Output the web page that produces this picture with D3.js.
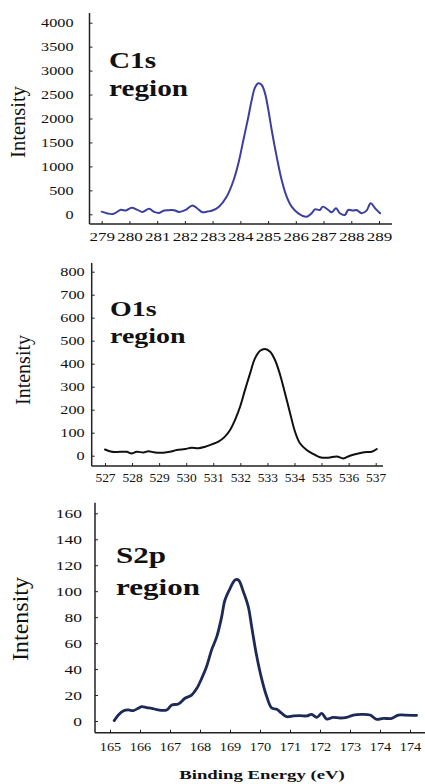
<!DOCTYPE html>
<html><head><meta charset="utf-8">
<script src="https://cdn.jsdelivr.net/npm/d3@7"></script>
<style>
body{margin:0;background:#fff}
svg{display:block}
text{font-family:"Liberation Serif","Times New Roman",serif;fill:#111}
</style>
</head><body>
<svg id="c" width="425" height="784"></svg>
<script>
// ---------- DATA ----------
const c1sEnergy = [279.0,279.4,279.69,279.87,280.08,280.29,280.47,280.71,280.89,281.07,281.25,281.43,281.61,281.79,282.03,282.27,282.45,282.63,282.81,282.99,283.23,283.5,283.75,283.93,284.11,284.29,284.41,284.53,284.65,284.77,284.89,285.01,285.13,285.31,285.49,285.67,285.85,286.09,286.39,286.57,286.69,286.87,286.97,287.17,287.29,287.45,287.59,287.77,287.89,288.07,288.19,288.37,288.55,288.7,288.86,289.04];
const c1sIntensity = [55,5,93,79,136,93,50,114,50,29,79,86,86,50,93,186,121,43,57,79,160,360,700,1064,1551,2038,2386,2650,2734,2700,2525,2177,1760,1204,717,369,160,21,-49,21,104,90,160,90,42,125,21,-14,90,77,90,21,77,230,125,21];

const o1sEnergy = [527.0,527.25,527.55,527.8,527.98,528.17,528.42,528.6,528.85,529.16,529.4,529.65,529.96,530.2,530.45,530.7,530.94,531.19,531.43,531.62,531.8,531.99,532.17,532.36,532.54,532.73,532.91,533.1,533.28,533.47,533.65,533.84,534.02,534.2,534.45,534.7,534.94,535.25,535.56,535.8,536.05,536.36,536.67,536.85,537.04];
const o1sIntensity = [27,17,17,17,10,17,14,19,14,13,17,25,29,35,32,39,49,61,83,112,155,213,285,358,423,456,464,452,416,351,271,184,104,54,25,7,-7,-9,-3,-12,0,10,16,17,29];

const s2pEnergy = [165.14,165.28,165.44,165.61,165.78,165.94,166.06,166.22,166.39,166.61,166.89,167.06,167.28,167.5,167.72,167.89,168.06,168.22,168.39,168.56,168.72,168.83,169.0,169.17,169.28,169.44,169.61,169.72,169.89,170.06,170.22,170.39,170.56,170.72,170.89,171.11,171.33,171.56,171.72,171.89,172.06,172.22,172.44,172.67,172.89,173.11,173.39,173.67,173.89,174.11,174.39,174.61,174.83,175.22];
const s2pIntensity = [0.3,4.6,7.7,8.5,8,9.8,11,10.3,9.8,8.5,8.5,12.3,13.1,17.5,20,25,33,42,55,65,80,93,102,108.6,108.6,100,88,73,50,32,19,10,9,6,3.3,3.9,4.1,3.9,5.1,2.8,5.9,1.5,2.8,2.3,2.8,4.6,5.1,4.6,1.3,2,2,4.6,4.6,4.4];

const c1sXTicks = [279,280,281,282,283,284,285,286,287,288,289];
const c1sXLabels = ["279","280","281","282","283","284","285","286","287","288","289"];
const c1sYTicks = [0,500,1000,1500,2000,2500,3000,3500,4000];

const o1sXTicks = [527,528,529,530,531,532,533,534,535,536,537];
const o1sXLabels = ["527","528","529","530","531","532","533","534","535","536","537"];
const o1sYTicks = [0,100,200,300,400,500,600,700,800];

const s2pXTicks = [165,166,167,168,169,170,171,172,173,174,175];
const s2pXLabels = ["165","166","167","168","169","170","171","172","173","174","174"];
const s2pYTicks = [0,20,40,60,80,100,120,140,160];

const regionNames = ["C1s","O1s","S2p"];
const yTitle = "Intensity";
const xTitle = "Binding Energy (eV)";

// ---------- DRAW ----------
const svg = d3.select("#c");
const SERIF = '"Liberation Serif","Times New Roman",serif';

function panel(cfg){
  const g = svg.append("g");
  const x = d3.scaleLinear().domain(cfg.xDomain).range(cfg.xRange);
  const y = d3.scaleLinear().domain(cfg.yDomain).range(cfg.yRange);

  // axis lines
  g.append("line").attr("x1",cfg.axisX).attr("x2",cfg.axisX)
    .attr("y1",cfg.axisTop).attr("y2",cfg.axisY)
    .attr("stroke","#222").attr("stroke-width",1.5);
  g.append("line").attr("x1",cfg.axisX).attr("x2",cfg.axisRight)
    .attr("y1",cfg.axisY).attr("y2",cfg.axisY)
    .attr("stroke","#222").attr("stroke-width",1.5);

  const xa = g.append("g").attr("transform",`translate(0,${cfg.axisY})`)
    .style("color","#222")
    .call(d3.axisBottom(x).tickValues(cfg.xTicks).tickFormat((d,i)=>cfg.xLabels[i])
      .tickSizeInner(-3).tickSizeOuter(0).tickPadding(0));
  xa.select(".domain").remove();
  xa.selectAll("line").attr("stroke-width",1);
  xa.selectAll("text")
    .attr("y",cfg.xLabelBase).attr("dy",null)
    .style("font-family",SERIF)
    .style("font-size",cfg.xFs+"px").attr("fill","#111")
    .attr("transform",`scale(${cfg.xSx},1)`);

  const ya = g.append("g").attr("transform",`translate(${cfg.axisX},0)`)
    .style("color","#222")
    .call(d3.axisLeft(y).tickValues(cfg.yTicks).tickFormat(d3.format("d"))
      .tickSizeInner(-3).tickSizeOuter(0).tickPadding(0));
  ya.select(".domain").remove();
  ya.selectAll("line").attr("stroke-width",1);
  ya.selectAll("text")
    .attr("x",-cfg.yGap/cfg.ySx).attr("dy","0.34em")
    .style("font-family",SERIF)
    .style("font-size",cfg.yFs+"px").attr("fill","#111")
    .attr("transform",`scale(${cfg.ySx},1)`);

  // y title
  g.append("text")
    .attr("transform",`translate(${cfg.yTitleX},${cfg.yTitleY}) rotate(-90)`)
    .attr("text-anchor","middle")
    .style("font-size",cfg.yTitleFs+"px")
    .text(yTitle);

  // region label
  const lab = g.append("text")
    .attr("transform",`translate(${cfg.labX},0) scale(${cfg.labSx},1)`)
    .style("font-size",cfg.labFs+"px").style("font-weight","bold");
  lab.append("tspan").attr("x",0).attr("y",cfg.labY1).text(cfg.name);
  lab.append("tspan").attr("x",0).attr("y",cfg.labY2).text("region");

  // line
  const line = d3.line().x(d=>x(d[0])).y(d=>y(d[1])).curve(d3.curveCatmullRom.alpha(0.5));
  g.append("path").datum(d3.zip(cfg.xs,cfg.ys))
    .attr("d",line).attr("fill","none")
    .attr("stroke",cfg.color).attr("stroke-width",cfg.lw)
    .attr("stroke-linejoin","round").attr("stroke-linecap","round");
}

panel({
  name:regionNames[0], xs:c1sEnergy, ys:c1sIntensity,
  xDomain:[279,289], xRange:[101.7,379], yDomain:[0,4000], yRange:[214.3,22.7],
  axisX:89.5, axisTop:13, axisY:224, axisRight:392,
  xTicks:c1sXTicks, xLabels:c1sXLabels, yTicks:c1sYTicks,
  xLabelBase:17, xFs:12, xSx:1.42, yGap:16, yFs:12, ySx:1.35,
  yTitleX:25, yTitleY:122, yTitleFs:20.5,
  labX:109, labY1:68, labY2:96, labFs:22.5, labSx:1.3,
  color:"#3b3f9f", lw:2
});

panel({
  name:regionNames[1], xs:o1sEnergy, ys:o1sIntensity,
  xDomain:[527,537], xRange:[105,375.7], yDomain:[0,800], yRange:[455.7,271.7],
  axisX:91.7, axisTop:263, axisY:466, axisRight:383,
  xTicks:o1sXTicks, xLabels:o1sXLabels, yTicks:o1sYTicks,
  xLabelBase:16, xFs:12.5, xSx:1.08, yGap:7, yFs:12.5, ySx:1.3,
  yTitleX:30, yTitleY:370, yTitleFs:20,
  labX:110, labY1:315.7, labY2:343.5, labFs:21.5, labSx:1.3,
  color:"#111", lw:2
});

panel({
  name:regionNames[2], xs:s2pEnergy, ys:s2pIntensity,
  xDomain:[165,175], xRange:[110,410], yDomain:[0,160], yRange:[721,513.3],
  axisX:95, axisTop:502.7, axisY:732.7, axisRight:425,
  xTicks:s2pXTicks, xLabels:s2pXLabels, yTicks:s2pYTicks,
  xLabelBase:18, xFs:13, xSx:1.1, yGap:13, yFs:12.5, ySx:1.4,
  yTitleX:28, yTitleY:619, yTitleFs:24,
  labX:116, labY1:563.3, labY2:595, labFs:23, labSx:1.35,
  color:"#1d2a57", lw:2.8
});

svg.append("text")
  .attr("transform","translate(262,779) scale(1.39,1)")
  .attr("text-anchor","middle")
  .style("font-size","13.5px").style("font-weight","bold")
  .text(xTitle);
</script>
</body></html>
